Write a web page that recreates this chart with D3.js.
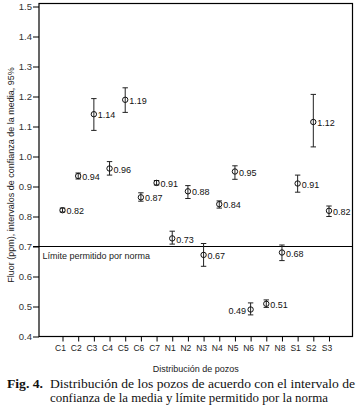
<!DOCTYPE html>
<html lang="es">
<head>
    <meta charset="UTF-8">
    <title>Fluor por pozo</title>
    <script src="https://d3js.org/d3.v7.js"></script>
    <style>
        body { margin: 0; background: #fff; }
        text { font-family: "Liberation Sans", Arial, sans-serif; }
    </style>
</head>
<body>
<svg id="chart"></svg>
<script>
    // wells along the x axis
    categories = ["C1", "C2", "C3", "C4", "C5", "C6", "C7", "N1", "N2",
                  "N3", "N4", "N5", "N6", "N7", "N8", "S1", "S2", "S3"];
    // mean fluoride (ppm) and 95% confidence interval bounds
    means = [0.821, 0.935, 1.141, 0.960, 1.189, 0.864, 0.912, 0.727, 0.884,
             0.672, 0.841, 0.950, 0.490, 0.509, 0.680, 0.910, 1.115, 0.819];
    lower = [0.815, 0.925, 1.087, 0.938, 1.147, 0.851, 0.905, 0.708, 0.860,
             0.634, 0.828, 0.924, 0.472, 0.497, 0.653, 0.881, 1.032, 0.800];
    upper = [0.828, 0.945, 1.193, 0.983, 1.229, 0.879, 0.920, 0.751, 0.903,
             0.710, 0.852, 0.969, 0.512, 0.522, 0.705, 0.938, 1.207, 0.835];
    // printed value labels
    valueLabels = ["0.82", "0.94", "1.14", "0.96", "1.19", "0.87", "0.91", "0.73", "0.88",
                   "0.67", "0.84", "0.95", "0.49", "0.51", "0.68", "0.91", "1.12", "0.82"];
    yTicks = [0.4, 0.5, 0.6, 0.7, 0.8, 0.9, 1.0, 1.1, 1.2, 1.3, 1.4, 1.5];
    limit = 0.7;

    data = categories.map((c, i) => ({
        well: c, mean: means[i], lo: lower[i], hi: upper[i], label: valueLabels[i]
    }));

    W = 357;
    H = 413;
    plot = {left: 39, right: 352.5, top: 3.5, bottom: 336.5};

    svg = d3.select("#chart")
        .attr("width", W)
        .attr("height", H);

    xScale = d3.scalePoint()
        .domain(categories)
        .range([plot.left, plot.right])
        .padding(1.5);

    yScale = d3.scaleLinear()
        .domain([0.4, 1.51])
        .range([plot.bottom, plot.top]);

    // frame around the plot area
    svg.append("rect")
        .attr("x", plot.left)
        .attr("y", plot.top)
        .attr("width", plot.right - plot.left)
        .attr("height", plot.bottom - plot.top)
        .attr("fill", "none")
        .attr("stroke", "#000")
        .attr("stroke-width", 1.2);

    yAxis = d3.axisLeft(yScale)
        .tickValues(yTicks)
        .tickFormat(d3.format(".1f"))
        .tickSize(6)
        .tickPadding(1);

    svg.append("g")
        .attr("transform", `translate(${plot.left},0)`)
        .call(yAxis)
        .call(g => g.select(".domain").remove())
        .call(g => g.selectAll("line").attr("stroke", "#000"))
        .call(g => g.selectAll("text")
            .attr("font-size", 9.5)
            .attr("fill", "#333")
            .style("font-family", "'Liberation Sans', Arial, sans-serif"));

    xAxis = d3.axisBottom(xScale)
        .tickSize(5)
        .tickPadding(3);

    svg.append("g")
        .attr("transform", `translate(0,${plot.bottom})`)
        .call(xAxis)
        .call(g => g.select(".domain").remove())
        .call(g => g.selectAll("line").attr("stroke", "#000"))
        .call(g => g.selectAll("text")
            .attr("font-size", 8.5)
            .attr("fill", "#222")
            .attr("x", -2.5)
            .style("font-family", "'Liberation Sans', Arial, sans-serif"));

    // permitted limit line, starts at the tick like the reference
    svg.append("line")
        .attr("x1", plot.left - 6)
        .attr("x2", plot.right)
        .attr("y1", yScale(limit))
        .attr("y2", yScale(limit))
        .attr("stroke", "#000")
        .attr("stroke-width", 1.2);

    svg.append("text")
        .attr("x", plot.left + 3.5)
        .attr("y", yScale(limit) + 9)
        .attr("dy", "0.35em")
        .attr("font-size", 9)
        .attr("fill", "#222")
        .text("Límite permitido por norma");

    // error bars with caps
    const bars = svg.append("g").selectAll("g")
        .data(data)
        .join("g")
        .attr("transform", d => `translate(${xScale(d.well)},0)`);

    bars.append("line")
        .attr("y1", d => yScale(d.lo))
        .attr("y2", d => yScale(d.hi))
        .attr("stroke", "#222");

    bars.selectAll(".cap")
        .data(d => [d.lo, d.hi])
        .join("line")
        .classed("cap", true)
        .attr("x1", -2.7)
        .attr("x2", 2.7)
        .attr("y1", v => yScale(v))
        .attr("y2", v => yScale(v))
        .attr("stroke", "#222");

    bars.append("circle")
        .attr("cy", d => yScale(d.mean))
        .attr("r", 2.7)
        .attr("fill", "none")
        .attr("stroke", "#111");

    // value labels, N6 sits on the left of its marker
    bars.append("text")
        .attr("x", d => d.well === "N6" ? -4.5 : 4)
        .attr("y", d => yScale(d.mean) + 1)
        .attr("dy", "0.35em")
        .attr("text-anchor", d => d.well === "N6" ? "end" : "start")
        .attr("font-size", 9)
        .attr("fill", "#111")
        .text(d => d.label);

    // axis titles
    svg.append("text")
        .attr("x", (plot.left + plot.right) / 2)
        .attr("y", 369)
        .attr("dy", "0.35em")
        .attr("text-anchor", "middle")
        .attr("font-size", 9)
        .attr("fill", "#222")
        .text("Distribución de pozos");

    svg.append("text")
        .attr("transform", "translate(11,175) rotate(-90)")
        .attr("dy", "0.35em")
        .attr("text-anchor", "middle")
        .attr("font-size", 9)
        .attr("fill", "#222")
        .text("Fluor (ppm), intervalos de confianza de la media, 95%");

    // figure caption, stretched to the printed line widths
    caption = svg.append("g")
        .attr("font-size", 12.5)
        .attr("fill", "#111");

    caption.append("text")
        .attr("x", 7)
        .attr("y", 388)
        .attr("font-weight", "bold")
        .attr("textLength", 36)
        .attr("lengthAdjust", "spacingAndGlyphs")
        .style("font-family", "'Liberation Serif', serif")
        .text("Fig. 4.");

    caption.append("text")
        .attr("x", 50)
        .attr("y", 388)
        .attr("textLength", 305)
        .attr("lengthAdjust", "spacingAndGlyphs")
        .style("font-family", "'Liberation Serif', serif")
        .text("Distribución de los pozos de acuerdo con el intervalo de");

    caption.append("text")
        .attr("x", 50)
        .attr("y", 402)
        .attr("textLength", 278)
        .attr("lengthAdjust", "spacingAndGlyphs")
        .style("font-family", "'Liberation Serif', serif")
        .text("confianza de la media y límite permitido por la norma");
</script>
</body>
</html>
